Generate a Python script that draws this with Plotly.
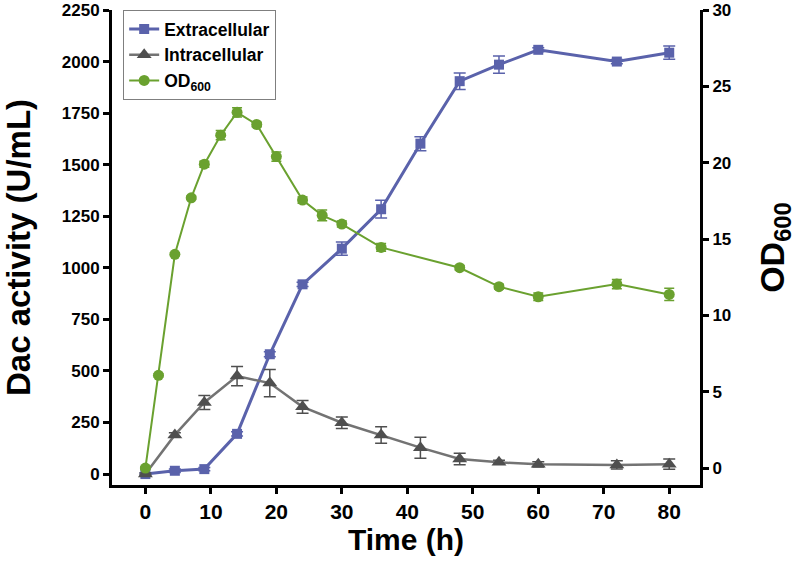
import plotly.graph_objects as go

# ---- data ----
time_cell = [0, 4.5, 9, 14, 19, 24, 30, 36, 42, 48, 54, 60, 72, 80]
extracellular = [0, 16, 24, 195, 581, 920, 1093, 1284, 1602, 1905, 1985, 2057, 2000, 2043]
extracellular_err = [5, 8, 8, 10, 12, 10, 32, 43, 34, 40, 42, 10, 10, 32]
intracellular = [0, 190, 347, 475, 441, 326, 249, 189, 128, 73, 57, 47, 44, 48]
intracellular_err = [5, 10, 34, 47, 66, 31, 28, 40, 51, 28, 10, 13, 20, 25]

time_od = [0, 2, 4.5, 7, 9, 11.5, 14, 17, 20, 24, 27, 30, 36, 48, 54, 60, 72, 80]
od600 = [0, 6.07, 14.0, 17.7, 19.9, 21.8, 23.3, 22.5, 20.4, 17.55, 16.55, 15.98,
         14.45, 13.12, 11.88, 11.22, 12.05, 11.37]
od600_err = [0.1, 0.1, 0.1, 0.1, 0.2, 0.3, 0.3, 0.15, 0.3, 0.2, 0.35, 0.2,
             0.25, 0.15, 0.15, 0.25, 0.3, 0.4]

x_ticks = [0, 10, 20, 30, 40, 50, 60, 70, 80]
left_ticks = [0, 250, 500, 750, 1000, 1250, 1500, 1750, 2000, 2250]
right_ticks = [0, 5, 10, 15, 20, 25, 30]

BLUE = "#5a62ab"
GREY_LINE = "#737373"
GREY_MARK = "#4f4f4f"
GREEN = "#6aa12f"
FONT = "Liberation Sans"

fig = go.Figure()

fig.add_trace(go.Scatter(
    x=time_cell, y=extracellular, name="Extracellular", yaxis="y",
    mode="lines+markers",
    line=dict(color=BLUE, width=3),
    marker=dict(symbol="square", size=10, color=BLUE),
    error_y=dict(type="data", array=extracellular_err, color=BLUE, thickness=1.5, width=6),
))
fig.add_trace(go.Scatter(
    x=time_cell, y=intracellular, name="Intracellular", yaxis="y",
    mode="lines+markers",
    line=dict(color=GREY_LINE, width=2.5),
    marker=dict(symbol="triangle-up", size=13, color=GREY_MARK),
    error_y=dict(type="data", array=intracellular_err, color=GREY_MARK, thickness=1.5, width=6),
))
fig.add_trace(go.Scatter(
    x=time_od, y=od600, name="OD<sub>600</sub>", yaxis="y2",
    mode="lines+markers",
    line=dict(color=GREEN, width=2),
    marker=dict(symbol="circle", size=11, color=GREEN),
    error_y=dict(type="data", array=od600_err, color=GREEN, thickness=1.5, width=5),
))

left_range = [-53, 2250]
right_range = [-1.11, 30]

axis_common = dict(showline=True, linecolor="black", linewidth=3,
                   ticks="outside", ticklen=6, tickwidth=3, tickcolor="black",
                   showgrid=False, zeroline=False, automargin=False,
                   ticklabeloverflow="allow")

fig.update_layout(
    width=800, height=572,
    margin=dict(l=112, r=100, t=10, b=87),
    paper_bgcolor="white", plot_bgcolor="white",
    font=dict(family=FONT, color="black"),
    xaxis=dict(range=[-5.1, 84.7], tickvals=x_ticks,
               tickfont=dict(size=21, family=FONT, weight="bold"),
               title=dict(text="Time (h)", font=dict(size=30, family=FONT, weight="bold"),
                          standoff=0),
               **axis_common),
    yaxis=dict(range=left_range, tickvals=left_ticks,
               tickfont=dict(size=17, family=FONT, weight="bold"),
               title=dict(text="Dac activity (U/mL)",
                          font=dict(size=33, family=FONT, weight="bold"), standoff=22),
               **axis_common),
    yaxis2=dict(range=right_range, tickvals=right_ticks, overlaying="y", side="right",
                tickfont=dict(size=17, family=FONT, weight="bold"),
                title=dict(text="OD<sub>600</sub>",
                           font=dict(size=34, family=FONT, weight="bold"), standoff=30),
                **axis_common),
    legend=dict(x=0.019, y=1.0, xanchor="left", yanchor="top",
                bgcolor="white", bordercolor="#7f7f7f", borderwidth=1,
                font=dict(size=17.5, family=FONT, weight="bold"),
                traceorder="normal"),
    showlegend=True,
)

# remove the page's default body margin so the figure sits at the window origin
fig.write_html("out.html", config={"displayModeBar": False},
               post_script="document.body.style.margin='0px';")
